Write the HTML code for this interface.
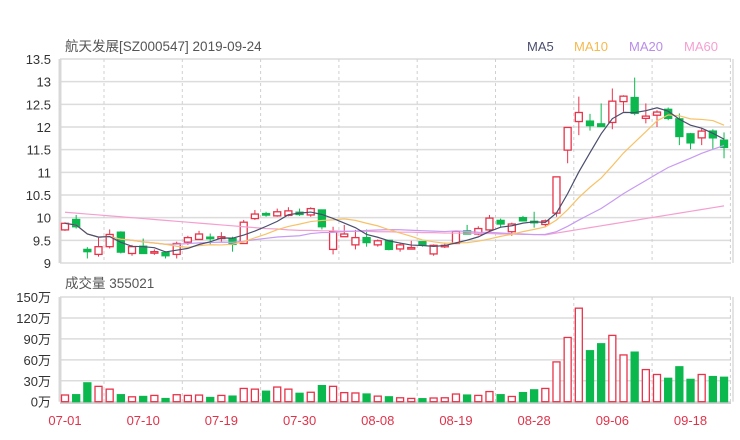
<!DOCTYPE html>
<html><head><meta charset="utf-8"><style>
body{margin:0;background:#fff;}
svg{display:block;font-family:"Liberation Sans","Noto Sans CJK SC",sans-serif;}
</style></head><body>
<svg id="chart" width="740" height="440" viewBox="0 0 740 440" xmlns="http://www.w3.org/2000/svg">
<text x="65" y="51" font-size="13.5" fill="#555">航天发展[SZ000547] 2019-09-24</text>
<g font-size="13">
<text x="527" y="51" fill="#4a4e6e">MA5</text>
<text x="574" y="51" fill="#f5b94f">MA10</text>
<text x="629" y="51" fill="#b98de8">MA20</text>
<text x="684" y="51" fill="#f59fd0">MA60</text>
</g>
<text x="65" y="288" font-size="13.5" fill="#555">成交量 355021</text>
<g id="grid"></g><g id="marks"></g><g id="labels"></g>
</svg>
<script>
const dates=["07-01","07-10","07-19","07-30","08-08","08-19","08-28","09-06","09-18"];
const dateIdx=[0,7,14,21,28,35,42,49,56];
const open=[9.73,9.96,9.3,9.19,9.36,9.68,9.21,9.37,9.24,9.23,9.19,9.46,9.52,9.57,9.54,9.54,9.43,9.98,10.09,10.04,10.05,10.12,10.06,10.17,9.3,9.58,9.4,9.56,9.4,9.5,9.31,9.33,9.47,9.2,9.36,9.43,9.71,9.64,9.73,9.94,9.69,10,9.92,9.85,10.1,11.49,12.12,12.13,12.07,12.1,12.56,12.65,12.19,12.26,12.39,12.18,11.85,11.76,11.91,11.71];
const close=[9.875,9.8,9.25,9.36,9.63,9.24,9.36,9.21,9.25,9.16,9.43,9.56,9.64,9.55,9.58,9.41,9.9,10.08,10.07,10.13,10.15,10.07,10.2,9.8,9.7,9.64,9.56,9.45,9.49,9.3,9.4,9.34,9.4,9.39,9.39,9.7,9.64,9.76,9.99,9.86,9.86,9.93,9.9,9.93,10.9,11.99,12.32,12.03,12.01,12.57,12.68,12.3,12.24,12.33,12.19,11.79,11.65,11.91,11.76,11.55];
const high=[9.9,10.06,9.35,9.58,9.74,9.7,9.4,9.54,9.3,9.26,9.47,9.6,9.71,9.65,9.68,9.58,9.95,10.17,10.13,10.2,10.23,10.2,10.23,10.18,9.8,9.84,9.73,9.74,9.52,9.5,9.44,9.49,9.48,9.41,9.45,9.7,9.84,9.81,10.06,9.98,9.89,10.04,10.13,9.96,10.9,11.99,12.67,12.29,12.52,12.85,12.7,13.09,12.52,12.37,12.43,12.3,11.87,11.97,11.95,11.88];
const low=[9.71,9.76,9.1,9.14,9.32,9.21,9.16,9.2,9.18,9.1,9.1,9.4,9.51,9.4,9.47,9.25,9.42,9.95,10.02,10.02,10.03,10.04,10.02,9.74,9.19,9.58,9.3,9.36,9.36,9.28,9.25,9.3,9.36,9.16,9.33,9.43,9.63,9.61,9.7,9.78,9.6,9.93,9.78,9.8,10.02,11.2,11.82,11.92,12.0,11.95,12.34,12.26,12.08,12.0,12.15,11.6,11.51,11.6,11.5,11.31];
const volume=[9.6,10,27,22,18,10,7,7.5,9,4.5,10,9,9.5,6,9,8,19,18,15,21,18,12,13.5,23,22,13,12.5,11,8,7,5.6,4.7,4.3,5.3,5.6,11,9.5,9,14.5,10,7.5,13,17,19,57,92,134,73,83,95,67,71,46,39,33.5,50,32,39,36,35];
const ma60=[10.12,10.10,10.08,10.06,10.04,10.02,10.00,9.98,9.96,9.94,9.92,9.90,9.88,9.86,9.84,9.82,9.80,9.78,9.76,9.75,9.73,9.72,9.72,9.71,9.71,9.70,9.70,9.70,9.69,9.69,9.68,9.68,9.67,9.67,9.66,9.66,9.66,9.65,9.65,9.64,9.64,9.63,9.63,9.62,9.66,9.70,9.74,9.78,9.82,9.86,9.90,9.94,9.98,10.02,10.06,10.10,10.14,10.18,10.22,10.26];
const priceTicks=[9,9.5,10,10.5,11,11.5,12,12.5,13,13.5];
const priceTickLabels=["9","9.5","10","10.5","11","11.5","12","12.5","13","13.5"];
const volTicks=[0,30,60,90,120,150];
const volTickLabels=["0万","30万","60万","90万","120万","150万"];

const NS="http://www.w3.org/2000/svg";
const L=60,R=731,PT=59,PB=263,VT=297,VB=401.7;
const X0=65,STEP=11.17;
const xs=i=>X0+i*STEP;
const yp=p=>PT+(13.5-p)/(13.5-9)*(PB-PT);
const yv=v=>VB-v/150*(VB-VT);
const RED="#e8334a",GREEN="#0ab84e";
function mk(tag,attrs,parent){const e=document.createElementNS(NS,tag);for(const k in attrs)e.setAttribute(k,attrs[k]);parent.appendChild(e);return e;}
const grid=document.getElementById('grid'),marks=document.getElementById('marks'),labels=document.getElementById('labels');

priceTicks.forEach((t,k)=>{
  const ln=mk('line',{x1:L,x2:R,y1:yp(t),y2:yp(t),stroke:"#dcdcdc","stroke-width":1.5},grid);
  
  
  const tx=mk('text',{x:51,y:yp(t)+5,"text-anchor":"end","font-size":13,fill:"#333"},labels);
  tx.textContent=priceTickLabels[k];
  
  
});
volTicks.forEach((t,k)=>{
  const ln=mk('line',{x1:L,x2:R,y1:yv(t),y2:yv(t),stroke:"#dcdcdc","stroke-width":1.5},grid);
  
  
  const tx=mk('text',{x:51,y:yv(t)+5,"text-anchor":"end","font-size":13,fill:"#333"},labels);
  tx.textContent=volTickLabels[k];
  
  
});
for(let k=0;k<9;k++){
  const x=104+k*78.3;
  [[PT,PB],[VT,VB]].forEach(([a,b])=>{
    const d=mk('line',{x1:x,x2:x,y1:a,y2:b,stroke:"#d0d0d0","stroke-dasharray":"3,3"},grid);
    
    
  });
}
[[PT,PB],[VT,VB]].forEach(([a,b])=>{
  const ax=mk('line',{x1:L,x2:L,y1:a,y2:b,stroke:"#d8d8d8","stroke-width":3},grid);
  
  
  const rx=mk('line',{x1:R+2,x2:R+2,y1:a,y2:b,stroke:"#e4e4e4","stroke-width":2},grid);
  
  
});
const xa=mk('line',{x1:L,x2:R,y1:403,y2:403,stroke:"#cfcfcf","stroke-width":2},grid);


dates.forEach((d,k)=>{
  const tx=mk('text',{x:xs(dateIdx[k]),y:425,"text-anchor":"middle","font-size":13,fill:"#e0334a"},labels);
  tx.textContent=d;
  
  
});

// candles & volume
for(let i=0;i<close.length;i++){
  const up=close[i]>=open[i],c=up?RED:GREEN,x=xs(i);
  const w=mk('line',{x1:x,x2:x,y1:yp(high[i]),y2:yp(low[i]),stroke:c,"stroke-width":1},marks);
  
  
  const top=yp(Math.max(open[i],close[i])),h=Math.max(1.5,Math.abs(yp(open[i])-yp(close[i])));
  const b=mk('rect',{x:x-3.5,y:top,width:7,height:h,fill:up?"#fff":c,stroke:c,"stroke-width":1.3},marks);
  
  
  const vt=yv(volume[i]);
  const vb=mk('rect',{x:x-3.5,y:vt,width:7,height:VB-vt,fill:up?"#fff":c,stroke:c,"stroke-width":1.3},marks);
  
  
}
function ma(n){return close.map((_,i)=>{const s=Math.max(0,i-n+1);let t=0;for(let j=s;j<=i;j++)t+=close[j];return t/(i-s+1);});}
function line(vals,color,name){
  const p=mk('polyline',{points:vals.map((v,i)=>xs(i)+","+yp(v)).join(" "),fill:"none",stroke:color,"stroke-width":1.2},marks);
  
  
}
line(ma60,"#f59fd0","ma60-line");
line(ma(20),"#c79bf2","ma20-line");
line(ma(10),"#f7c267","ma10-line");
line(ma(5),"#4a4e6e","ma5-line");
</script>
</body></html>
